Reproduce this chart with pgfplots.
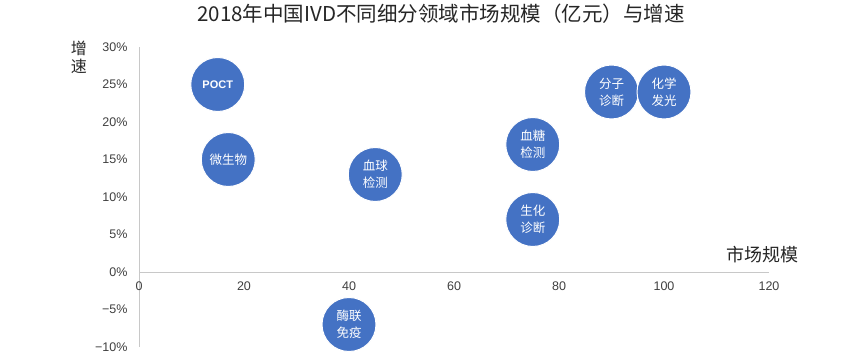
\documentclass[border=0pt]{standalone}
\usepackage{pgfplots}
\pgfplotsset{compat=1.18}
\usepackage{fontspec}
\setmainfont{Liberation Sans}
\newfontfamily\cjk{Noto Sans CJK SC}
\definecolor{bub}{HTML}{4472C4}
\definecolor{axgray}{HTML}{C8C8C8}
\definecolor{ticktext}{HTML}{404040}
\newcommand{\bublabel}[3]{\addplot[draw=none, mark=none, nodes near coords={#3},
  every node near coord/.append style={anchor=center, align=center, text=white,
  font=\cjk\fontsize{12.5}{17}\selectfont}] coordinates {(#1,#2)};}
\begin{document}
\begin{tikzpicture}
\useasboundingbox (0pt,0pt) rectangle (865pt,361pt);
\fill[white] (0pt,0pt) rectangle (865pt,361pt);
\node[font=\cjk\fontsize{20.5}{23}\selectfont, text=black!85] at (441pt,347pt) {2018年中国IVD不同细分领域市场规模（亿元）与增速};
\begin{axis}[
 at={(139pt,14pt)}, anchor=south west, scale only axis, width=630pt, height=300pt,
 xmin=0, xmax=120, ymin=-10, ymax=30,
 axis x line=middle, axis y line=left,
 axis line style={-, draw=axgray, line width=0.9pt},
 hide obscured x ticks=false, hide obscured y ticks=false,
 xtick={0,20,...,120}, ytick={-10,-5,...,30},
 yticklabels={−10\%,−5\%,0\%,5\%,10\%,15\%,20\%,25\%,30\%},
 major tick length=0pt,
 tick label style={font=\fontsize{12.5}{14}\selectfont, text=ticktext},
 xticklabel style={yshift=-6pt},
 yticklabel style={xshift=-8pt},
 /pgf/number format/assume math mode=true,
 clip=false,
]
\addplot[only marks, mark=*, mark size=27pt, mark options={fill=bub, draw=white, line width=1pt}]
 coordinates {(15,25) (17,15) (45,13) (40,-7) (75,17) (75,7) (90,24) (100,24)};
\addplot[draw=none, mark=none, nodes near coords={\textbf{POCT}},
  every node near coord/.append style={anchor=center, text=white, font=\fontsize{11}{13}\selectfont}] coordinates {(15,25)};
\bublabel{17}{15}{微生物}
\bublabel{45}{13}{血球\\检测}
\bublabel{40}{-7}{酶联\\免疫}
\bublabel{75}{17}{血糖\\检测}
\bublabel{75}{7}{生化\\诊断}
\bublabel{90}{24}{分子\\诊断}
\bublabel{100}{24}{化学\\发光}
\node[font=\cjk\fontsize{16}{18}\selectfont, align=center, text=black!85] at ([xshift=-60pt,yshift=-10pt]rel axis cs:0,1) {增\\速};
\node[font=\cjk\fontsize{18}{20}\selectfont, text=black!85] at ([xshift=-7pt,yshift=17pt]axis cs:120,0) {市场规模};
\end{axis}
\end{tikzpicture}
\end{document}
